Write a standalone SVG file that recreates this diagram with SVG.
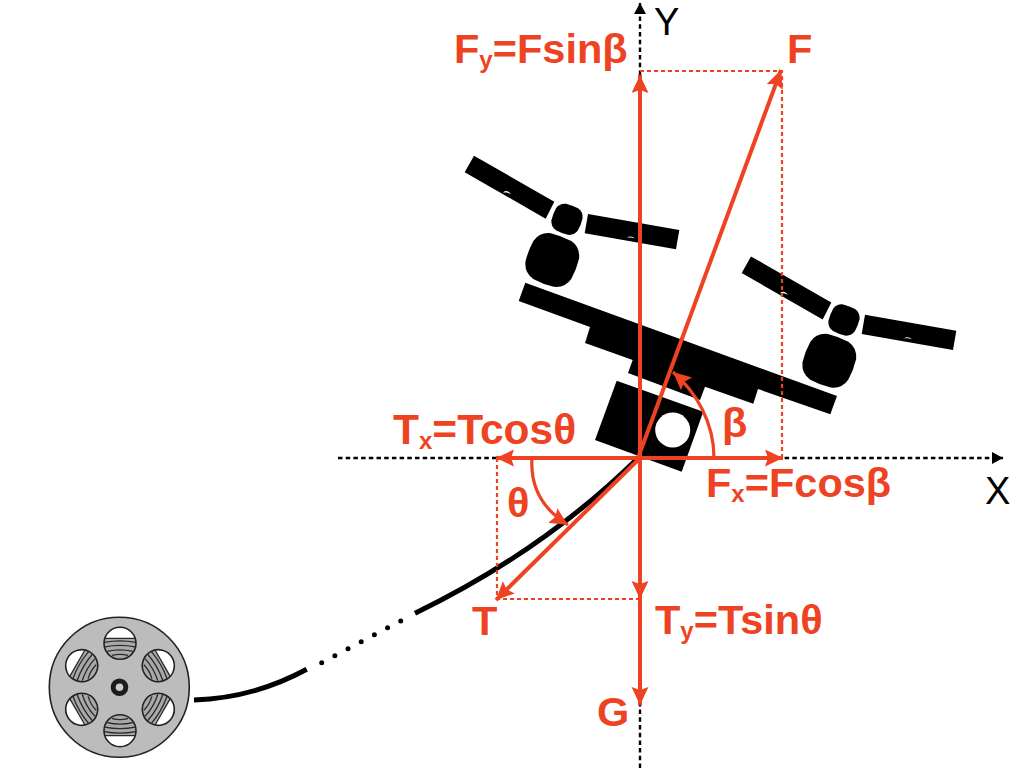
<svg xmlns="http://www.w3.org/2000/svg" width="1024" height="768" viewBox="0 0 1024 768">
<style>
.r{font-family:"Liberation Sans",Arial,sans-serif;font-weight:700;font-size:41.5px;fill:#ee4323}
.s{font-size:24px}
.k{font-family:"Liberation Sans",Arial,sans-serif;font-size:38px;fill:#000}
.v{stroke:#ee4323;stroke-width:4;fill:none}
.w{stroke:#ee4323;stroke-width:3.2;fill:none}
.d{stroke:#ee4323;stroke-width:2.2;stroke-dasharray:4 3;fill:none}
.a{stroke:#000;stroke-width:2.4;stroke-dasharray:4.5 3.2;fill:none}
.t{stroke:#000;fill:none;stroke-width:5}
.g{fill:#bcbcbc;stroke:#222;stroke-width:1.6}
.h{fill:none;stroke:#2a2a2a;stroke-width:1.3}
</style>
<defs>
<marker id="ar" markerUnits="userSpaceOnUse" markerWidth="20" markerHeight="18" refX="18" refY="8.500" orient="auto"><path d="M0 0L18 8.500L0 17L3 8.500Z" fill="#ee4323"/></marker>
<marker id="ak" markerUnits="userSpaceOnUse" markerWidth="14" markerHeight="14" refX="11" refY="6" orient="auto"><path d="M0 0L11 6L0 12Z" fill="#000"/></marker>
<path id="hub" d="M-11 -24.500Q0 -26 11 -24.500Q21.500 -22 24.500 -11Q26 0 24.500 11Q22 21.500 11 24.500Q0 26 -11 24.500Q-21.500 22 -24.500 11Q-26 0 -24.500 -11Q-22 -21.500 -11 -24.500Z"/>
<g id="rotor">
<path d="M474 155.700L554.300 201.700L545.700 218.700L464.700 172.300Z"/>
<path d="M588 214L679.300 230L676 249.300L584.700 233.300Z"/>
<use href="#hub" transform="translate(567 219.300) rotate(21) scale(.58)"/>
<use href="#hub" transform="translate(552.300 260) rotate(21)"/>
<path d="M503 192.500Q507 189 511 194L507 192.500Z" fill="#fff"/>
<path d="M627 237.500Q631 235 635 238.500L631 237.500Z" fill="#fff"/>
</g>
<g id="hole">
<circle r="16" fill="#fff"/>
<path d="M-15.200 -5A16 16 0 1 0 15.200 -5Z" fill="#a9a9a9" transform="translate(0 0)"/>
<path class="h" d="M-15.200 -5H15.200M-15.900 -1Q0 -4 15.900 -1M-15.300 3.500Q0 0.500 15.300 3.500M-12.800 8Q0 5 12.800 8M-8 12Q0 10 8 12"/>
<circle r="16" fill="none" stroke="#222" stroke-width="1.6"/>
</g>
</defs>
<g id="axes">
<path class="a" d="M338 458H1003" marker-end="url(#ak)"/>
<path class="a" d="M640 768V3" marker-end="url(#ak)"/>
</g>
<g id="rotor-left"><use href="#rotor"/></g>
<g id="rotor-right"><use href="#rotor" transform="translate(277 100.700)"/></g>
<g id="drone-body">
<path d="M525.300 282.700L837 396L830.300 414.300L758 389L753.300 403.700L705 386.700L700 400L628 373L632.700 360L585 343L590 327L518.700 301Z"/>
<path d="M616.700 380.700L703.300 411.700L681.700 471.700L595 440Z"/>
<circle cx="672.700" cy="430" r="17.500" fill="#fff"/>
</g>
<g id="reel">
<circle cx="119.300" cy="687.300" r="70" class="g"/>
<use href="#hole" transform="translate(120 643.300)"/>
<use href="#hole" transform="translate(158.300 665.700) rotate(60)"/>
<use href="#hole" transform="translate(158.300 709.300) rotate(120)"/>
<use href="#hole" transform="translate(120 730.700) rotate(180)"/>
<use href="#hole" transform="translate(81.700 709.300) rotate(240)"/>
<use href="#hole" transform="translate(81.700 665.700) rotate(300)"/>
<circle cx="119.500" cy="687.300" r="6.300" fill="#ccc" stroke="#1c1c1c" stroke-width="5"/>
</g>
<g id="connectors">
<path class="t" d="M194 700Q254 698 306.700 669.300"/>
<path class="t" d="M321.700 662.700L401.500 620.500" stroke-dasharray="0 14.900" stroke-linecap="round" stroke-width="5"/>
<path class="t" d="M415 613.300C496 574 570 525 638 458"/>
<path class="d" d="M640 71H782V458M497 458V599H640"/>
<path class="v" d="M640 458V75" marker-end="url(#ar)"/>
<path class="v" d="M638 458L781 70" marker-end="url(#ar)"/>
<path class="v" d="M640 458H783" marker-end="url(#ar)"/>
<path class="v" d="M640 458H496" marker-end="url(#ar)"/>
<path class="v" d="M640 458L496 600" marker-end="url(#ar)"/>
<path class="v" d="M640 458V705" marker-end="url(#ar)"/>
<path class="v" d="M640 575V599" marker-end="url(#ar)"/>
<path class="w" d="M714 458C714 422 696 392 673 372" marker-end="url(#ar)"/>
<path class="w" d="M532 458C530 488 544 510 568 525" marker-end="url(#ar)"/>
</g>
<g id="labels">
<text class="r" x="454" y="63">F<tspan class="s" dy="5">y</tspan><tspan dy="-5">=Fsinβ</tspan></text>
<text class="r" x="787" y="63">F</text>
<text class="r" x="393" y="444" style="font-size:42.500px">T<tspan class="s" dy="5">x</tspan><tspan dy="-5">=Tcosθ</tspan></text>
<text class="r" x="706" y="497">F<tspan class="s" dy="5">x</tspan><tspan dy="-5">=Fcosβ</tspan></text>
<text class="r" x="655" y="634">T<tspan class="s" dy="5">y</tspan><tspan dy="-5">=Tsinθ</tspan></text>
<text class="r" x="472" y="635">T</text>
<text class="r" x="597" y="726">G</text>
<text class="r" x="507" y="517">θ</text>
<text class="r" x="722" y="437">β</text>
<text class="k" x="985" y="504">X</text>
<text class="k" x="654" y="34.500">Y</text>
</g>
</svg>
